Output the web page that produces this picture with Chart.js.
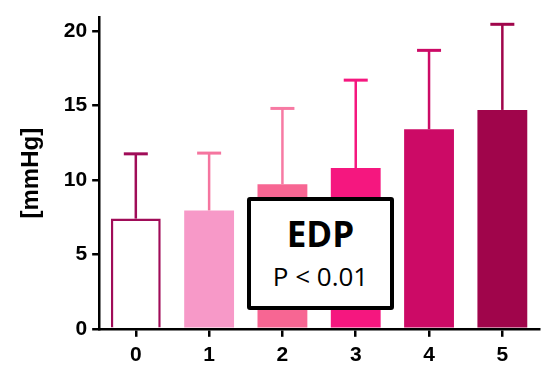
<!DOCTYPE html>
<html>
<head>
<meta charset="utf-8">
<script src="https://cdn.jsdelivr.net/npm/chart.js@4.4.1/dist/chart.umd.min.js"></script>
<style>
    html, body { margin: 0; padding: 0; background: #fff; }
    #wrap { position: relative; width: 547px; height: 375px; }
    #note {
        position: absolute;
        left: 247px; top: 197px;
        width: 139px; height: 105px;
        border: 4.5px solid #000;
        border-radius: 3px;
        background: #fff;
        text-align: center;
        font-family: "Open Sans", "Noto Sans", sans-serif;
        color: #000;
    }
    #note .title { font-weight: bold; font-size: 35px; line-height: 34px; margin-top: 16px; }
    #note .pval { font-size: 26px; line-height: 26px; margin-top: 12px; }
</style>
</head>
<body>
<div id="wrap">
    <canvas id="edpChart" width="547" height="375"></canvas>
    <div id="note">
        <div class="title">EDP</div>
        <div class="pval">P &lt; 0.01</div>
    </div>
</div>
<script>
    const categories = ['0', '1', '2', '3', '4', '5'];
    const meanValues = [7.4, 7.95, 9.7, 10.8, 13.4, 14.7];
    const upperValues = [11.75, 11.8, 14.8, 16.7, 18.7, 20.45];
    const yTicks = [0, 5, 10, 15, 20];

    const fillColors = ['#ffffff', '#f799c8', '#f76693', '#f5177f', '#cc0a66', '#a0054b'];
    const edgeColors = ['#a00c58', '#f799c8', '#f76693', '#f5177f', '#cc0a66', '#a0054b'];
    const errorColors = ['#a00c58', '#f5759f', '#f77aa3', '#f5177f', '#cc0a66', '#a0054b'];

    // Draws the upper SD whiskers from the data arrays
    const errorBars = {
        id: 'errorBars',
        afterDatasetsDraw(chart) {
            const ctx = chart.ctx;
            const x = chart.scales.x;
            const y = chart.scales.y;
            ctx.save();
            upperValues.forEach((top, i) => {
                const cx = x.getPixelForValue(i);
                const yBar = y.getPixelForValue(meanValues[i]);
                const yTop = y.getPixelForValue(top);
                ctx.strokeStyle = errorColors[i];
                ctx.lineWidth = 2.5;
                ctx.beginPath();
                ctx.moveTo(cx, yBar);
                ctx.lineTo(cx, yTop);
                ctx.stroke();
                ctx.lineWidth = 3;
                ctx.beginPath();
                ctx.moveTo(cx - 12, yTop);
                ctx.lineTo(cx + 12, yTop);
                ctx.stroke();
            });
            ctx.restore();
        }
    };

    const ctx = document.getElementById('edpChart').getContext('2d');
    new Chart(ctx, {
        type: 'bar',
        data: {
            labels: categories,
            datasets: [{
                data: meanValues,
                backgroundColor: fillColors,
                borderColor: edgeColors,
                borderWidth: [2.5, 0, 0, 0, 0, 0],
                barPercentage: 0.68,
                categoryPercentage: 1
            }]
        },
        options: {
            responsive: false,
            animation: false,
            layout: { padding: { top: 12, right: 8, left: 17, bottom: 1 } },
            plugins: { legend: { display: false }, tooltip: { enabled: false } },
            scales: {
                x: {
                    grid: { drawOnChartArea: false, color: '#000', lineWidth: 2.5, tickLength: 8, offset: false },
                    border: { color: '#000', width: 2.5 },
                    ticks: { color: '#000', font: { family: 'Liberation Sans', weight: 'bold', size: 21 }, padding: 6 }
                },
                y: {
                    min: 0,
                    max: 20.9,
                    afterBuildTicks(scale) {
                        scale.ticks = yTicks.map(v => ({ value: v }));
                    },
                    grid: { drawOnChartArea: false, color: '#000', lineWidth: 2.5, tickLength: 7 },
                    border: { color: '#000', width: 2.5 },
                    ticks: { color: '#000', font: { family: 'Liberation Sans', weight: 'bold', size: 21 }, padding: 5 },
                    title: {
                        display: true,
                        text: '[mmHg]',
                        color: '#000',
                        font: { family: 'Liberation Sans', weight: 'bold', size: 24 },
                        padding: { top: 0, bottom: 13 }
                    }
                }
            }
        },
        plugins: [errorBars]
    });
</script>
</body>
</html>
